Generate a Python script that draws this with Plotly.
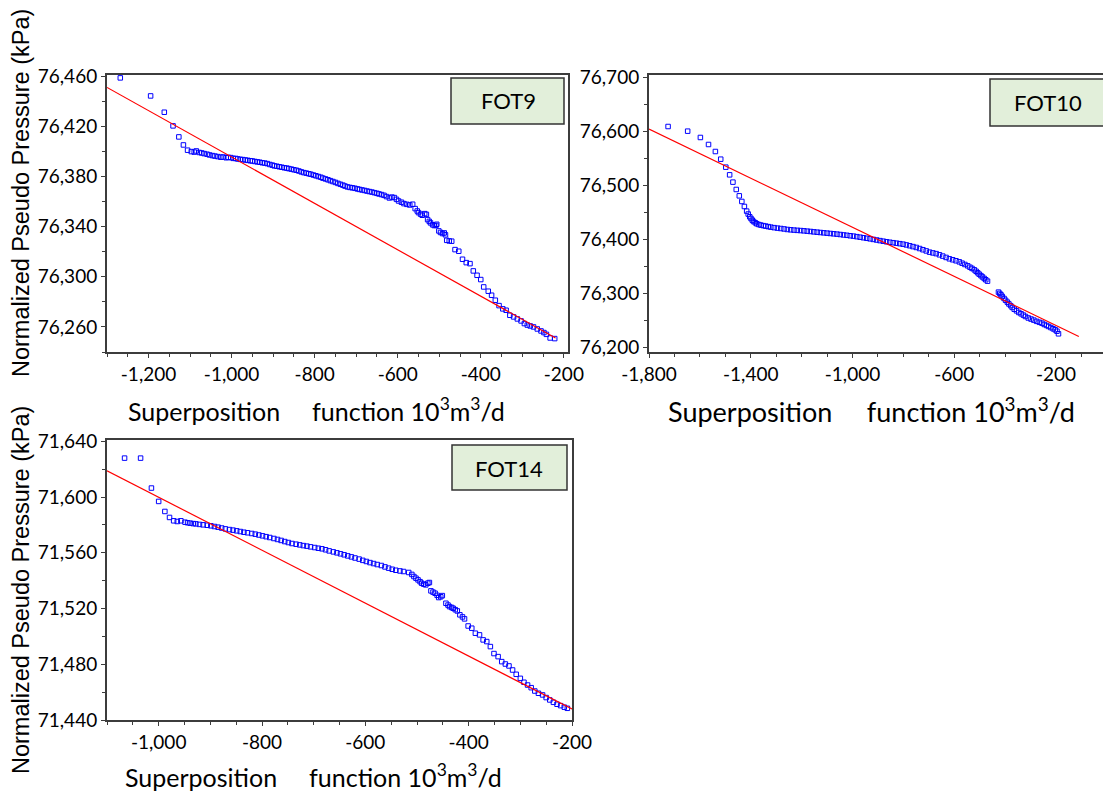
import plotly.graph_objects as go

# ---------------- data ----------------
fot9_x = [-1268, -1195, -1162, -1141, -1127, -1116, -1106, -1097, -1090, -1085, -1078, -1072, -1066, -1059,
          -1053, -1046, -1040, -1033, -1026, -1020, -1013, -1008, -1002, -996, -990, -985, -979, -973, -967,
          -961, -955, -950, -944, -938, -932, -926, -920, -914, -908, -902, -897, -891, -885, -879, -873,
          -867, -862, -856, -850, -844, -838, -832, -826, -820, -814, -809, -803, -797, -791, -785, -780,
          -774, -768, -762, -756, -750, -744, -738, -732, -727, -721, -715, -709, -703, -697, -692, -686,
          -680, -674, -668, -662, -656, -650, -645, -639, -633, -627, -620, -614, -608, -603, -598, -591,
          -585, -578, -571, -564, -558, -553, -550, -545, -541, -535, -531, -528, -524, -521, -516, -512,
          -508, -506, -501, -497, -492, -488, -485, -482, -476, -470, -462, -453, -444, -435, -426, -418,
          -409, -400, -393, -382, -374, -365, -356, -347, -339, -330, -321, -312, -303, -295, -288, -281,
          -273, -264, -255, -248, -242, -233, -222]
fot9_y = [76458.7, 76444.3, 76431.3, 76420.4, 76411.6, 76405.2, 76401.0, 76399.9, 76399.5, 76400.4, 76399.2,
          76398.8, 76398.3, 76397.8, 76397.2, 76396.7, 76396.3, 76395.9, 76395.4, 76395.6, 76395.0, 76395.3,
          76395.1, 76394.5, 76394.4, 76394.0, 76393.7, 76393.5, 76393.2, 76392.9, 76392.6, 76392.4, 76392.0,
          76391.7, 76391.4, 76391.0, 76390.7, 76390.3, 76389.6, 76389.1, 76388.5, 76388.2, 76387.8, 76387.4,
          76387.0, 76386.7, 76386.3, 76385.9, 76385.4, 76385.0, 76384.4, 76383.7, 76383.1, 76382.7, 76382.2,
          76381.8, 76381.2, 76380.6, 76380.0, 76379.4, 76378.7, 76378.1, 76377.4, 76376.7, 76376.0, 76375.3,
          76374.5, 76373.8, 76373.1, 76372.4, 76371.7, 76371.3, 76371.0, 76370.6, 76370.1, 76369.7, 76369.3,
          76368.9, 76368.4, 76368.0, 76367.6, 76367.1, 76366.6, 76366.1, 76365.6, 76365.0, 76364.0, 76362.9,
          76363.6, 76363.2, 76361.8, 76360.5, 76359.5, 76358.4, 76357.8, 76357.3, 76357.9, 76354.4, 76352.5,
          76351.2, 76350.0, 76349.1, 76350.4, 76349.8, 76345.6, 76344.2, 76343.0, 76341.5, 76340.9, 76341.0,
          76341.9, 76336.6, 76335.4, 76334.5, 76335.0, 76333.5, 76329.1, 76328.6, 76328.4, 76321.7, 76320.4,
          76314.0, 76311.3, 76310.5, 76304.7, 76301.2, 76297.8, 76291.9, 76288.5, 76285.3, 76281.3, 76277.0,
          76274.4, 76273.3, 76269.3, 76268.0, 76266.4, 76264.8, 76262.7, 76261.5, 76260.8, 76260.0, 76258.4,
          76256.8, 76255.5, 76254.1, 76251.2, 76250.7]
fot9_fit_x = [-1300, -220]
fot9_fit_y = [76451.1, 76251.2]

fot10_x = [-1725, -1648, -1598, -1566, -1539, -1518, -1498, -1483, -1470, -1457, -1445, -1435, -1425, -1416,
           -1410, -1404, -1399, -1394, -1389, -1382, -1376, -1368, -1360, -1350, -1341, -1331, -1321, -1308,
           -1295, -1282, -1269, -1256, -1243, -1230, -1217, -1204, -1191, -1178, -1165, -1152, -1139, -1126,
           -1113, -1100, -1087, -1074, -1061, -1048, -1035, -1022, -1009, -996, -983, -970, -957, -944, -931,
           -918, -905, -892, -879, -866, -853, -840, -827, -814, -801, -788, -775, -762, -749, -736, -723,
           -710, -697, -684, -671, -658, -645, -632, -619, -606, -593, -580, -569, -558, -547, -538, -530,
           -521, -514, -508, -502, -495, -489, -482, -476, -469,
           -426, -421, -416, -411, -404, -398, -391, -385, -378, -372, -364, -355, -346, -337, -328, -320,
           -309, -298, -287, -276, -265, -255, -246, -237, -229, -220, -211, -203, -196, -190]
fot10_y = [76608.6, 76600.0, 76588.3, 76575.3, 76562.3, 76548.1, 76533.3, 76519.1, 76505.6, 76492.0, 76480.2,
           76469.8, 76460.5, 76451.9, 76446.5, 76441.5, 76438.3, 76435.2, 76432.7, 76430.4, 76428.4, 76427.0,
           76426.0, 76425.0, 76424.1, 76423.2, 76422.2, 76421.3, 76420.4, 76419.7, 76418.9, 76417.9, 76417.3,
           76416.8, 76416.3, 76415.9, 76415.4, 76414.8, 76414.2, 76413.5, 76412.9, 76412.3, 76411.7, 76411.1,
           76410.5, 76409.9, 76409.3, 76408.6, 76407.8, 76407.1, 76406.3, 76405.6, 76404.6, 76403.6, 76402.6,
           76401.6, 76400.6, 76399.5, 76398.4, 76397.3, 76396.2, 76395.1, 76394.2, 76393.4, 76392.5, 76391.6,
           76390.7, 76389.3, 76387.8, 76386.2, 76384.6, 76382.6, 76380.4, 76378.2, 76375.9, 76374.5, 76373.2,
           76371.0, 76368.6, 76366.1, 76363.6, 76361.8, 76360.0, 76358.0, 76355.5, 76353.1, 76350.6, 76348.0,
           76345.8, 76343.2, 76340.5, 76337.8, 76335.2, 76332.5, 76330.0, 76327.2, 76324.8, 76322.2,
           76301.9, 76299.5, 76296.8, 76293.8, 76290.2, 76286.8, 76283.3, 76280.0, 76276.8, 76273.5, 76270.2,
           76267.2, 76264.2, 76261.7, 76259.3, 76256.8, 76254.0, 76252.0, 76250.0, 76247.8, 76246.0, 76244.4,
           76242.0, 76240.2, 76238.3, 76236.2, 76234.0, 76232.1, 76229.5, 76224.7]
fot10_fit_x = [-1800, -110]
fot10_fit_y = [76603.7, 76219.8]

fot14_x = [-1066, -1035, -1014, -1000, -988, -979, -971, -964, -957, -949, -944, -939, -933, -928, -921, -914,
           -906, -899, -892, -885, -878, -871, -863, -856, -849, -842, -835, -828, -820, -813, -806, -799, -792,
           -785, -777, -770, -763, -756, -749, -742, -734, -727, -720, -713, -706, -698, -691, -684, -677, -670,
           -662, -655, -648, -641, -634, -627, -620, -612, -605, -598, -591, -584, -577, -569, -562, -555, -548,
           -541, -533, -526, -516, -510, -506, -502, -498, -494, -491, -487, -483, -479, -476, -473, -469, -465,
           -461, -458, -454, -451, -444, -440, -437, -433, -430, -426, -422, -417, -412, -408, -401, -394, -387,
           -379, -372, -365, -358, -351, -343, -336, -329, -322, -315, -308, -300, -293, -286, -279, -272, -265,
           -257, -250, -243, -236, -229, -222, -215, -209]
fot14_y = [71628.0, 71628.0, 71606.5, 71596.9, 71589.7, 71585.4, 71583.0, 71582.5, 71583.0, 71582.0, 71581.6,
           71581.3, 71581.0, 71580.8, 71580.4, 71580.1, 71579.8, 71579.4, 71578.9, 71578.4, 71577.8, 71577.2,
           71576.7, 71576.3, 71575.8, 71575.3, 71574.8, 71574.4, 71573.9, 71573.4, 71572.8, 71572.2, 71571.6,
           71571.0, 71570.3, 71569.6, 71568.9, 71568.1, 71567.4, 71566.7, 71566.2, 71565.7, 71565.2, 71564.8,
           71564.3, 71563.8, 71563.3, 71562.9, 71562.2, 71561.4, 71560.7, 71560.0, 71559.3, 71558.6, 71557.8,
           71557.1, 71556.3, 71555.5, 71554.6, 71553.8, 71553.0, 71552.3, 71551.6, 71550.9, 71549.9, 71549.0,
           71548.2, 71547.5, 71547.0, 71546.6, 71545.9, 71544.5, 71543.0, 71541.8, 71540.6, 71539.3, 71538.2,
           71537.5, 71537.0, 71538.2, 71538.7, 71532.7, 71531.8, 71531.0, 71529.5, 71527.9, 71528.5, 71529.3,
           71523.8, 71522.5, 71521.4, 71520.8, 71520.2, 71519.2, 71518.3, 71515.5, 71514.0, 71512.6, 71507.5,
           71505.9, 71502.3, 71501.1, 71497.5, 71496.3, 71492.7, 71487.7, 71485.5, 71481.9, 71480.2, 71478.8,
           71475.9, 71472.8, 71469.9, 71467.1, 71465.1, 71463.2, 71460.8, 71459.2, 71458.0, 71456.1, 71454.4,
           71452.7, 71451.3, 71450.3, 71449.2, 71448.4]
fot14_fit_x = [-1100, -200]
fot14_fit_y = [71618.9, 71447.9]

# tick labels
p1_xticks = [-1200, -1000, -800, -600, -400, -200]
p1_xlabels = ["-1,200", "-1,000", "-800", "-600", "-400", "-200"]
p1_yticks = [76260, 76300, 76340, 76380, 76420, 76460]
p1_ylabels = ["76,260", "76,300", "76,340", "76,380", "76,420", "76,460"]
p2_xticks = [-1800, -1400, -1000, -600, -200]
p2_xlabels = ["-1,800", "-1,400", "-1,000", "-600", "-200"]
p2_yticks = [76200, 76300, 76400, 76500, 76600, 76700]
p2_ylabels = ["76,200", "76,300", "76,400", "76,500", "76,600", "76,700"]
p3_xticks = [-1000, -800, -600, -400, -200]
p3_xlabels = ["-1,000", "-800", "-600", "-400", "-200"]
p3_yticks = [71440, 71480, 71520, 71560, 71600, 71640]
p3_ylabels = ["71,440", "71,480", "71,520", "71,560", "71,600", "71,640"]

panel_names = ["FOT9", "FOT10", "FOT14"]
x_title = "Superposition\u00a0\u00a0\u00a0\u00a0\u00a0function 10<sup>3</sup>m<sup>3</sup>/d"
y_title = "Normalized Pseudo Pressure (kPa)"

# ---------------- figure ----------------
W, H = 1103, 792
fig = go.Figure()

series = [(fot9_x, fot9_y, fot9_fit_x, fot9_fit_y, "x", "y"),
          (fot10_x, fot10_y, fot10_fit_x, fot10_fit_y, "x2", "y2"),
          (fot14_x, fot14_y, fot14_fit_x, fot14_fit_y, "x3", "y3")]
for sx, sy, fx, fy, xa, ya in series:
    fig.add_trace(go.Scatter(x=sx, y=sy, mode="markers", xaxis=xa, yaxis=ya,
                             marker=dict(symbol="square-open", size=4.5, color="#0000ff",
                                         line=dict(width=1, color="#0000ff"))))
    fig.add_trace(go.Scatter(x=fx, y=fy, mode="lines", xaxis=xa, yaxis=ya,
                             line=dict(color="#ff0000", width=1.2)))

def px_x(a, b):
    return [a / W, b / W]

def px_y(top, bottom):
    return [1 - bottom / H, 1 - top / H]

tickfont = dict(family="Lato", size=19, color="black")
frame = "#3c3c3c"

def xaxis(domain, anchor, rng, tv, tt, minor_dt):
    return dict(domain=domain, anchor=anchor, range=rng, tickmode="array", tickvals=tv, ticktext=tt,
                automargin=False,
                showline=True, linecolor=frame, linewidth=2, mirror=True, ticks="outside", ticklen=4,
                tickcolor=frame, tickwidth=1, showgrid=False, zeroline=False, tickfont=tickfont,
                minor=dict(dtick=minor_dt, tick0=0, ticks="outside", ticklen=3, tickcolor=frame, showgrid=False))

def yaxis(domain, anchor, rng, tv, tt, minor_dt, mirror=True):
    return dict(domain=domain, anchor=anchor, range=rng, tickmode="array", tickvals=tv, ticktext=tt,
                automargin=False,
                showline=True, linecolor=frame, linewidth=2, mirror=mirror, ticks="outside", ticklen=4,
                tickcolor=frame, tickwidth=1, showgrid=False, zeroline=False, tickfont=tickfont,
                minor=dict(dtick=minor_dt, tick0=0, ticks="outside", ticklen=3, tickcolor=frame, showgrid=False))

fig.update_layout(
    width=W, height=H, margin=dict(l=0, r=0, t=0, b=0, autoexpand=False),
    paper_bgcolor="white", plot_bgcolor="white", showlegend=False,
    xaxis=xaxis(px_x(107, 568), "y", [-1300, -190], p1_xticks, p1_xlabels, 50),
    yaxis=yaxis(px_y(75, 352), "x", [76240, 76461], p1_yticks, p1_ylabels, 20),
    xaxis2=xaxis(px_x(649, 1103), "y2", [-1800, -15], p2_xticks, p2_xlabels, 100),
    yaxis2=yaxis(px_y(75, 352), "x2", [76191, 76704], p2_yticks, p2_ylabels, 50, mirror=False),
    xaxis3=xaxis(px_x(107, 572), "y3", [-1100, -200], p3_xticks, p3_xlabels, 50),
    yaxis3=yaxis(px_y(440, 720), "x3", [71440, 71641], p3_yticks, p3_ylabels, 20),
)

# label boxes
boxes = [(451, 564, 78, 124, 508, 101), (990, 1106, 79, 126, 1048, 102), (452, 567, 445, 490, 509, 468)]
for (x0, x1, y0, y1, tx, ty), name in zip(boxes, panel_names):
    fig.add_shape(type="rect", xref="paper", yref="paper", x0=x0 / W, x1=x1 / W,
                  y0=1 - y1 / H, y1=1 - y0 / H, fillcolor="#e2efda",
                  line=dict(color="#333333", width=1.5), layer="above")
    fig.add_annotation(x=tx / W, y=1 - ty / H, xref="paper", yref="paper", text=name, showarrow=False,
                       font=dict(family="Lato", size=22, color="black"), xanchor="center", yanchor="middle")

# axis titles as annotations
for cx, cy, fs in [(316, 410, 25), (871, 410, 27), (313, 775, 25)]:
    fig.add_annotation(x=cx / W, y=1 - cy / H, xref="paper", yref="paper", text=x_title, showarrow=False,
                       font=dict(family="Lato", size=fs, color="black"), xanchor="center", yanchor="middle")
for cy in [193, 590]:
    fig.add_annotation(x=21 / W, y=1 - cy / H, xref="paper", yref="paper", text=y_title, showarrow=False,
                       textangle=-90, font=dict(family="Liberation Sans", size=23.5, color="black"),
                       xanchor="center", yanchor="middle")

fig.write_html("out.html")
